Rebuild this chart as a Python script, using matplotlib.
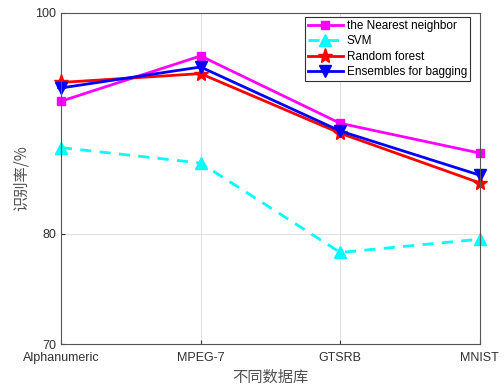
import matplotlib
matplotlib.use('Agg')
import matplotlib.pyplot as plt

plt.rcParams['font.family'] = ['Liberation Sans', 'Noto Sans CJK SC']

datasets = ['Alphanumeric', 'MPEG-7', 'GTSRB', 'MNIST']
nearest = [92.0, 96.1, 90.0, 87.3]
svm = [87.8, 86.4, 78.3, 79.5]
forest = [93.7, 94.5, 89.1, 84.6]
bagging = [93.2, 95.1, 89.3, 85.3]

fig = plt.figure(figsize=(5.04, 3.91), dpi=100)
ax = fig.add_axes([0.121, 0.120, 0.831, 0.847])

x = range(len(datasets))
ax.plot(x, nearest, color='#ff00ff', lw=2, marker='s', ms=6, label='the Nearest neighbor', clip_on=False)
ax.plot(x, svm, color='cyan', lw=2, ls=(0, (4, 3)), marker='^', ms=9, label='SVM', clip_on=False)
ax.plot(x, forest, color='red', lw=2, marker='*', ms=11, label='Random forest', clip_on=False)
ax.plot(x, bagging, color='blue', lw=2, marker='v', ms=8, label='Ensembles for bagging', clip_on=False)

ax.set_xlim(0, 3)
ax.set_ylim(70, 100)
ax.set_xticks(list(x))
ax.set_xticklabels(datasets)
ax.set_yticks([70, 80, 100])
ax.grid(True, color='#e0e0e0', lw=0.7)
ax.tick_params(colors='#303030', labelsize=9, direction='in', length=3)
ax.tick_params(axis='x', pad=6)
for s in ax.spines.values():
    s.set_color('#555555')

ax.set_xlabel('不同数据库', family=['Noto Sans CJK SC'], color='#505050', fontsize=11, labelpad=3)
ax.set_ylabel('识别率/%', family=['Noto Sans CJK SC'], color='#505050', fontsize=11)

leg = ax.legend(loc='upper right', fontsize=8.5, fancybox=False, framealpha=1,
                edgecolor='#303030', borderpad=0.25, labelspacing=0.3, handlelength=3.0,
                handletextpad=0.3, borderaxespad=0, bbox_to_anchor=(0.976, 0.988))
leg.get_frame().set_linewidth(0.8)

fig.savefig('out.png', dpi=100)
